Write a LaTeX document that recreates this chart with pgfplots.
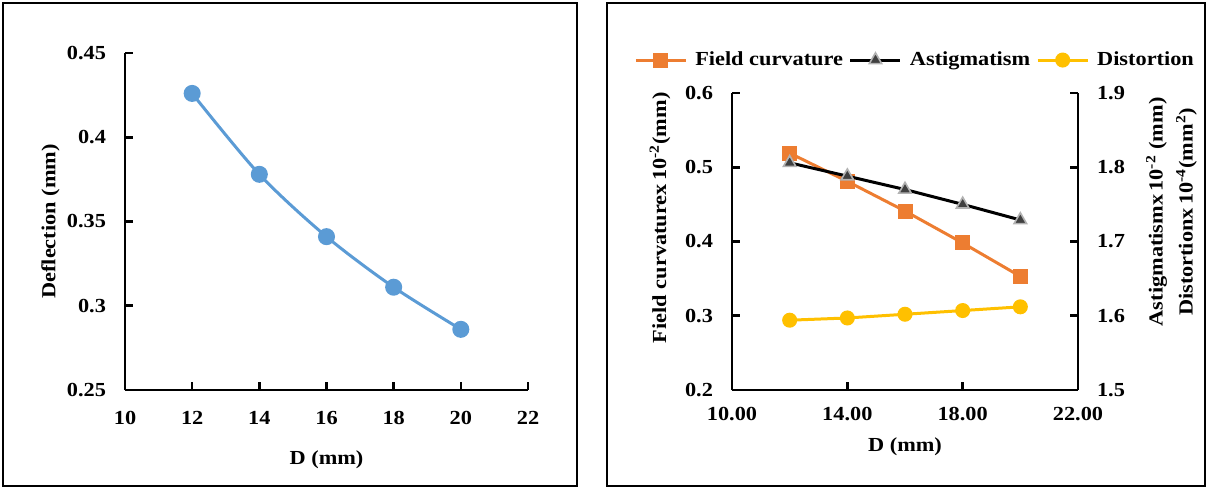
\documentclass[border=0pt]{standalone}
\usepackage{fontspec}
\setmainfont{Liberation Serif}[FakeStretch=1.12]
\usepackage{pgfplots}
\pgfplotsset{compat=1.18}
\definecolor{cblue}{RGB}{91,155,213}
\definecolor{corange}{RGB}{237,125,49}
\definecolor{cyellow}{RGB}{255,192,0}
\newcommand{\ff}{\fontsize{10}{12}\selectfont\bfseries}
\pgfplotsset{mystyle/.style={
  scale only axis,
  axis line style={line width=1.3bp},
  /pgf/number format/assume math mode=true,
  tick label style={font=\ff},
  label style={font=\ff},
  clip=false,
  major tick length=4bp, major tick style={line width=1.3bp, black},
}}
\begin{document}
\begin{tikzpicture}
\useasboundingbox (0,0) rectangle (604bp,244.5bp);
\draw[line width=1bp] (1.5bp,1.5bp) rectangle (288.5bp,243bp);
\draw[line width=1bp] (303.5bp,1.5bp) rectangle (602.5bp,243bp);

\begin{axis}[mystyle, at={(62.5bp,49.5bp)}, anchor=south west,
  width=201.5bp, height=168.5bp,
  xmin=10, xmax=22, ymin=0.25, ymax=0.45,
  xtick={10,12,14,16,18,20,22}, ytick={0.25,0.3,0.35,0.4,0.45},
  axis x line*=bottom, axis y line*=left,
  xtick pos=bottom, ytick pos=left,
  xtick align=inside, ytick align=inside,
  xticklabel style={yshift=-7bp},
  yticklabel style={xshift=-6bp, /pgf/number format/.cd, fixed, precision=2},
  xlabel={D (mm)}, ylabel={Deflection (mm)},
  xlabel style={at={(axis description cs:0.5,0)}, anchor=center, yshift=-35bp},
  ylabel style={at={(axis description cs:-0.185,0.5)}, anchor=center},
]
\pgfplotsinvokeforeach{12,14,16,18,20,22}{\draw[line width=1.3bp] (axis cs:#1,0.25) -- ++(0pt,4bp);}
\pgfplotsinvokeforeach{0.3,0.35,0.4,0.45}{\draw[line width=1.3bp] (axis cs:10,#1) -- ++(4bp,0pt);}
\addplot[cblue, line width=1.5bp, smooth, mark=*, mark size=3.5bp, mark options={fill=cblue, draw=cblue}]
  coordinates {(12,0.426) (14,0.378) (16,0.341) (18,0.311) (20,0.286)};
\end{axis}

\begin{axis}[mystyle, at={(366bp,49.5bp)}, anchor=south west,
  width=173bp, height=148.5bp,
  xmin=10, xmax=22, ymin=0.2, ymax=0.6,
  xtick={10,14,18,22}, ytick={0.2,0.3,0.4,0.5,0.6},
  axis x line*=bottom, axis y line*=left,
  xtick pos=bottom, ytick pos=left,
  xtick align=inside, ytick align=inside,
  xticklabel style={yshift=-5bp, /pgf/number format/.cd, fixed, fixed zerofill, precision=2},
  yticklabel style={xshift=-6bp, /pgf/number format/.cd, fixed, precision=1},
  xlabel={D (mm)},
  xlabel style={at={(axis description cs:0.5,0)}, anchor=center, yshift=-28.5bp},
  ylabel={Field curvaturex\,10\textsuperscript{-2}(mm)},
  ylabel style={at={(axis description cs:-0.208,0.58)}, anchor=center},
  legend style={at={(axis description cs:0.532,1.111)}, anchor=center, draw=none, fill=none,
    font=\ff, legend columns=3, inner sep=0pt,
    /tikz/every even column/.append style={column sep=1bp},
    /tikz/every odd column/.append style={column sep=2bp}},
  legend image code/.code={\draw[mark repeat=2,mark phase=2] plot coordinates {(0bp,0bp) (12.5bp,0bp) (25bp,0bp)};},
]
\pgfplotsinvokeforeach{14,18,22}{\draw[line width=1.3bp] (axis cs:#1,0.2) -- ++(0pt,4bp);}
\pgfplotsinvokeforeach{0.3,0.4,0.5,0.6}{\draw[line width=1.3bp] (axis cs:10,#1) -- ++(4bp,0pt);}
\addplot[corange, line width=1.5bp, mark=square*, mark size=3bp, mark options={fill=corange, draw=corange}]
  coordinates {(12,0.519) (14,0.481) (16,0.441) (18,0.398) (20,0.353)};
\addlegendentry{Field curvature}
\addlegendimage{black, line width=1.5bp, mark=triangle*, mark size=3.6bp, mark options={fill=black!75, draw=gray!60, line width=0.8bp}}
\addlegendentry{Astigmatism}
\addlegendimage{cyellow, line width=1.5bp, mark=*, mark size=3bp, mark options={fill=cyellow, draw=cyellow}}
\addlegendentry{Distortion}
\end{axis}

\begin{axis}[mystyle, at={(366bp,49.5bp)}, anchor=south west,
  width=173bp, height=148.5bp,
  xmin=10, xmax=22, ymin=1.5, ymax=1.9,
  ytick={1.5,1.6,1.7,1.8,1.9},
  axis x line=none, axis y line*=right,
  ytick pos=right, ytick align=inside,
  yticklabel style={xshift=6bp, /pgf/number format/.cd, fixed, precision=1},
  ylabel={Astigmatismx\,10\textsuperscript{-2} (mm)\\[3bp]Distortionx\,10\textsuperscript{-4}(mm\textsuperscript{2})},
  ylabel style={at={(axis description cs:1.27,0.6)}, anchor=center, align=center},
]
\pgfplotsinvokeforeach{1.6,1.7,1.8,1.9}{\draw[line width=1.3bp] (axis cs:22,#1) -- ++(-4bp,0pt);}
\addplot[cyellow, line width=1.5bp, mark=*, mark size=3bp, mark options={fill=cyellow, draw=cyellow}]
  coordinates {(12,1.594) (14,1.597) (16,1.602) (18,1.607) (20,1.612)};
\addplot[black, line width=1.5bp, mark=triangle*, mark size=3.6bp, mark options={fill=black!75, draw=gray!60, line width=0.8bp}]
  coordinates {(12,1.806) (14,1.788) (16,1.770) (18,1.750) (20,1.729)};
\end{axis}
\end{tikzpicture}
\end{document}
